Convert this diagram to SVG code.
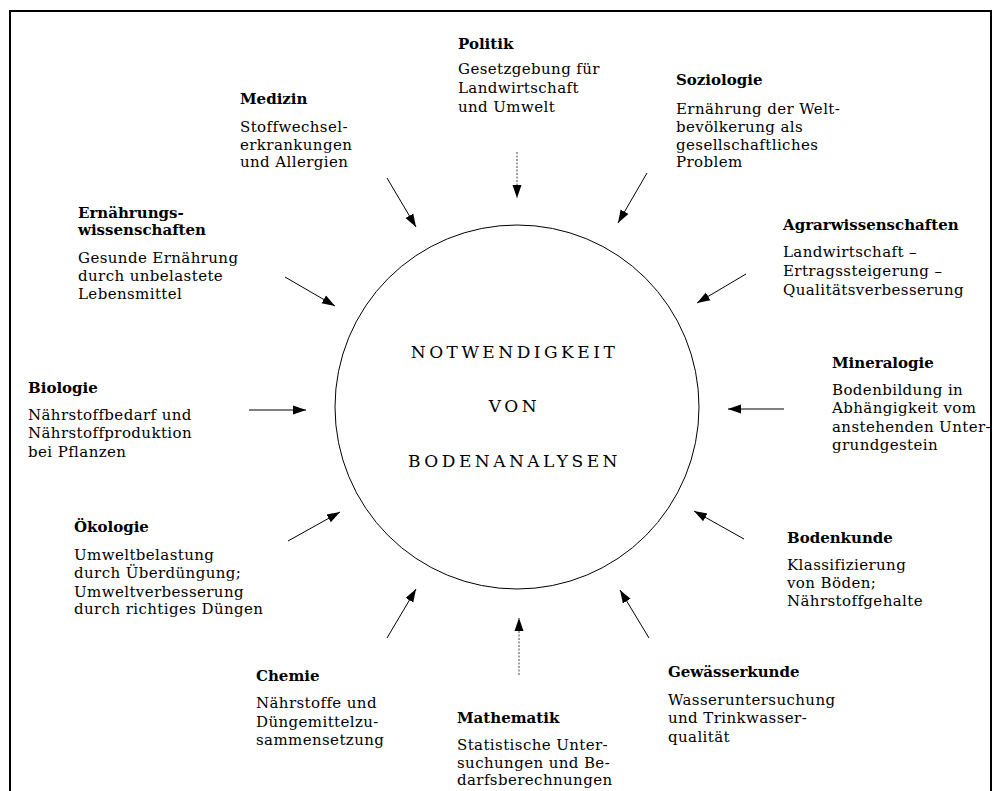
<svg xmlns="http://www.w3.org/2000/svg" width="996" height="791" viewBox="0 0 996 791">
<style>
text{font-family:"DejaVu Serif","Liberation Serif",serif;fill:#000}
.t{font-size:15px;font-weight:bold}
.b{font-size:15px;letter-spacing:0.4px}
.c{font-size:17px;letter-spacing:3.5px}
.a{stroke:#000;stroke-width:1;fill:none;marker-end:url(#ah)}
.d{stroke:#444;stroke-width:1;stroke-dasharray:2 1.5;fill:none;marker-end:url(#ah)}
</style>
<defs>
<marker id="ah" markerUnits="userSpaceOnUse" markerWidth="15" markerHeight="11" refX="13" refY="5.5" orient="auto">
<path d="M0,1 L13,5.5 L0,10 Z" fill="#000"/>
</marker>
</defs>
<rect width="996" height="791" fill="#fff"/>
<path d="M10,791 V11 H991 V791" fill="none" stroke="#000" stroke-width="2"/>
<g id="center">
<circle cx="517" cy="407" r="182" fill="none" stroke="#000" stroke-width="1"/>
<text class="c" x="514.5" y="358" text-anchor="middle">NOTWENDIGKEIT</text>
<text class="c" x="514.5" y="412" text-anchor="middle">VON</text>
<text class="c" x="514.5" y="467" text-anchor="middle">BODENANALYSEN</text>
</g>
<g id="politik"><text class="t" x="458" y="49">Politik</text><text class="b" x="458" y="74">Gesetzgebung für</text><text class="b" x="458" y="93">Landwirtschaft</text><text class="b" x="458" y="112">und Umwelt</text></g>
<g id="soziologie"><text class="t" x="676" y="85">Soziologie</text><text class="b" x="676" y="114">Ernährung der Welt-</text><text class="b" x="676" y="132">bevölkerung als</text><text class="b" x="676" y="150">gesellschaftliches</text><text class="b" x="676" y="167">Problem</text></g>
<g id="medizin"><text class="t" x="240" y="104">Medizin</text><text class="b" x="240" y="132">Stoffwechsel-</text><text class="b" x="240" y="150">erkrankungen</text><text class="b" x="240" y="167">und Allergien</text></g>
<g id="ernaehrung"><text class="t" x="78" y="218">Ernährungs-</text><text class="t" x="78" y="235">wissenschaften</text><text class="b" x="78" y="263">Gesunde Ernährung</text><text class="b" x="78" y="281">durch unbelastete</text><text class="b" x="78" y="299">Lebensmittel</text></g>
<g id="agrar"><text class="t" x="783" y="230">Agrarwissenschaften</text><text class="b" x="783" y="257">Landwirtschaft –</text><text class="b" x="783" y="276">Ertragssteigerung –</text><text class="b" x="783" y="295">Qualitätsverbesserung</text></g>
<g id="biologie"><text class="t" x="28" y="393">Biologie</text><text class="b" x="28" y="420">Nährstoffbedarf und</text><text class="b" x="28" y="438">Nährstoffproduktion</text><text class="b" x="28" y="457">bei Pflanzen</text></g>
<g id="mineralogie"><text class="t" x="832" y="368">Mineralogie</text><text class="b" x="832" y="395">Bodenbildung in</text><text class="b" x="832" y="413">Abhängigkeit vom</text><text class="b" x="832" y="432">anstehenden Unter-</text><text class="b" x="832" y="450">grundgestein</text></g>
<g id="oekologie"><text class="t" x="74" y="532">Ökologie</text><text class="b" x="74" y="560">Umweltbelastung</text><text class="b" x="74" y="578">durch Überdüngung;</text><text class="b" x="74" y="597">Umweltverbesserung</text><text class="b" x="74" y="614">durch richtiges Düngen</text></g>
<g id="bodenkunde"><text class="t" x="787" y="543">Bodenkunde</text><text class="b" x="787" y="570">Klassifizierung</text><text class="b" x="787" y="588">von Böden;</text><text class="b" x="787" y="606">Nährstoffgehalte</text></g>
<g id="chemie"><text class="t" x="256" y="681">Chemie</text><text class="b" x="256" y="708">Nährstoffe und</text><text class="b" x="256" y="727">Düngemittelzu-</text><text class="b" x="256" y="745">sammensetzung</text></g>
<g id="gewaesser"><text class="t" x="668" y="677">Gewässerkunde</text><text class="b" x="668" y="705">Wasseruntersuchung</text><text class="b" x="668" y="723">und Trinkwasser-</text><text class="b" x="668" y="742">qualität</text></g>
<g id="mathematik"><text class="t" x="457" y="723">Mathematik</text><text class="b" x="457" y="750">Statistische Unter-</text><text class="b" x="457" y="768">suchungen und Be-</text><text class="b" x="457" y="785">darfsberechnungen</text></g>
<g id="connectors">
<line class="d" x1="517" y1="152" x2="517" y2="198"/>
<line class="a" x1="387" y1="178" x2="416" y2="227"/>
<line class="a" x1="647" y1="173" x2="618" y2="223"/>
<line class="a" x1="285" y1="277" x2="335" y2="306"/>
<line class="a" x1="746" y1="274" x2="697" y2="303"/>
<line class="a" x1="249" y1="410" x2="306" y2="410"/>
<line class="a" x1="784" y1="409" x2="728" y2="409"/>
<line class="a" x1="288" y1="541" x2="340" y2="512"/>
<line class="a" x1="744" y1="539" x2="694" y2="511"/>
<line class="a" x1="387" y1="638" x2="416" y2="589"/>
<line class="a" x1="649" y1="638" x2="620" y2="590"/>
<line class="d" x1="519" y1="675" x2="519" y2="618"/>
</g>
</svg>
